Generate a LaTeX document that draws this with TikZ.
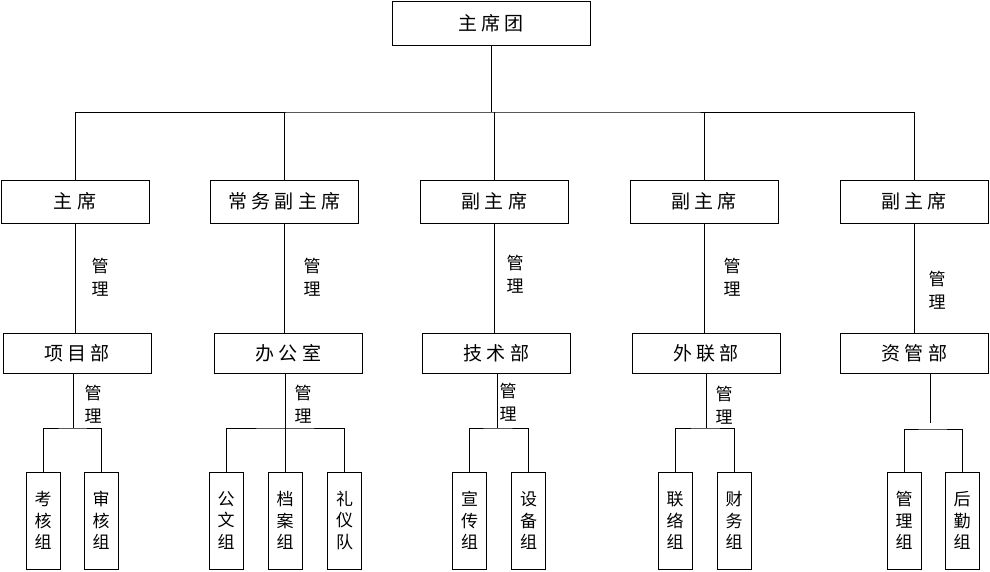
\documentclass[tikz,border=0pt]{standalone}
\usepackage{fontspec}
\newfontfamily\cjk{Noto Sans CJK SC}
\newfontfamily\cjkwide[LetterSpace=22]{Noto Sans CJK SC}
\begin{document}
\begin{tikzpicture}[x=1pt,y=-1pt,
  box/.style={draw, line width=0.9pt, inner sep=0pt, font=\cjkwide\fontsize{19}{21}\selectfont},
  lbox/.style={box, minimum width=148pt, minimum height=43pt},
  mbox/.style={box, minimum width=148pt, minimum height=40pt},
  vbox/.style={draw, line width=0.9pt, inner sep=0pt, minimum width=34pt, minimum height=97pt, align=center, font=\cjk\fontsize{17}{21.5}\selectfont},
  lab/.style={align=center, inner sep=0pt, font=\cjk\fontsize{17}{23}\selectfont},
  conn/.style={line width=0.7pt}]
\useasboundingbox (0,0) rectangle (990,571);
% top
\node[box, minimum width=198pt, minimum height=44pt] (top) at (491,23) {主席团};
% level 2
\node[lbox] (n1) at (75,201.5) {主席};
\node[lbox] (n2) at (284.5,201.5) {常务副主席};
\node[lbox] (n3) at (494.5,201.5) {副主席};
\node[lbox] (n4) at (704,201.5) {副主席};
\node[lbox] (n5) at (914,201.5) {副主席};
% level 3
\node[mbox] (m1) at (77,353) {项目部};
\node[mbox] (m2) at (288.5,353) {办公室};
\node[mbox] (m3) at (496.5,353) {技术部};
\node[mbox] (m4) at (706,353) {外联部};
\node[mbox] (m5) at (914.5,353) {资管部};
% groups
\node[vbox] (s11) at (43,520.5) {考\\核\\组};
\node[vbox] (s12) at (101,520.5) {审\\核\\组};
\node[vbox] (s21) at (226,520.5) {公\\文\\组};
\node[vbox] (s22) at (285,520.5) {档\\案\\组};
\node[vbox] (s23) at (344.5,520.5) {礼\\仪\\队};
\node[vbox] (s31) at (469.5,520.5) {宣\\传\\组};
\node[vbox] (s32) at (528.5,520.5) {设\\备\\组};
\node[vbox] (s41) at (675,520.5) {联\\络\\组};
\node[vbox] (s42) at (734,520.5) {财\\务\\组};
\node[vbox] (s51) at (904,520.5) {管\\理\\组};
\node[vbox] (s52) at (962,520.5) {后\\勤\\组};
% bar coordinates
\coordinate (b0) at (491,112);
\coordinate (c1) at (73,428);
\coordinate (c2) at (285,428);
\coordinate (c3) at (497,428);
\coordinate (c4) at (706,428);
\coordinate (c5) at (932,429);
\coordinate (g5) at (930,423);
% top connectors
\draw[conn] (top.south) -- (b0);
\draw[conn] (n1.north) |- (b0) -| (n5.north);
\draw[conn] (n2.north) -- (n2.north |- b0);
\draw[conn] (n3.north) -- (n3.north |- b0);
\draw[conn] (n4.north) -- (n4.north |- b0);
% level 2 to level 3
\draw[conn] (n1.south) -- (n1.south |- m1.north);
\draw[conn] (n2.south) -- (n2.south |- m2.north);
\draw[conn] (n3.south) -- (n3.south |- m3.north);
\draw[conn] (n4.south) -- (n4.south |- m4.north);
\draw[conn] (n5.south) -- (n5.south |- m5.north);
% level 3 to groups
\draw[conn] (m1.south -| c1) -- (c1);
\draw[conn] (s11.north) |- (c1) -| (s12.north);
\draw[conn] (m2.south -| c2) -- (c2);
\draw[conn] (s21.north) |- (c2) -| (s23.north);
\draw[conn] (s22.north) -- (c2);
\draw[conn] (m3.south -| c3) -- (c3);
\draw[conn] (s31.north) |- (c3) -| (s32.north);
\draw[conn] (m4.south -| c4) -- (c4);
\draw[conn] (s41.north) |- (c4) -| (s42.north);
\draw[conn] (m5.south -| g5) -- (g5);
\draw[conn] (s51.north) |- (c5) -| (s52.north);
% labels
\node[lab] (l1) at (100,277) {管\\理};
\node[lab] (l2) at (312,277) {管\\理};
\node[lab] (l3) at (515,274) {管\\理};
\node[lab] (l4) at (732,277) {管\\理};
\node[lab] (l5) at (937,290) {管\\理};
\node[lab] (k1) at (93,404) {管\\理};
\node[lab] (k2) at (303,404) {管\\理};
\node[lab] (k3) at (508,402) {管\\理};
\node[lab] (k4) at (724,405) {管\\理};
\end{tikzpicture}
\end{document}
